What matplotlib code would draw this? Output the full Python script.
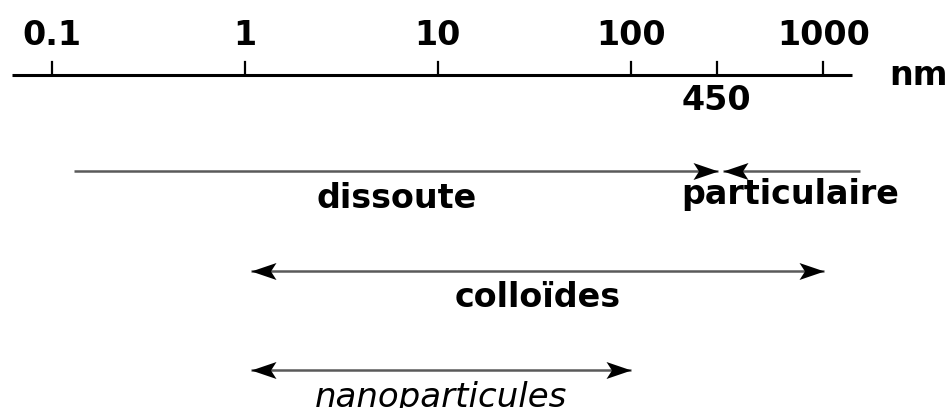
import numpy as np
import matplotlib
matplotlib.use("Agg")
import matplotlib.pyplot as plt
from matplotlib.path import Path

# Size scale (nm) - drawn as a log axis
tick_values = [0.1, 1, 10, 100, 1000]
tick_labels = ["0.1", "1", "10", "100", "1000"]
unit_label = "nm"

# cut-off between dissolved and particulate fraction (schematic position on the drawing)
cutoff_value = 280
cutoff_label = "450"

# size ranges: (name, start, end, arrowhead at start, arrowhead at end)
range_names = ["dissoute", "particulaire", "colloïdes", "nanoparticules"]
range_start = [0.13, 300, 1.08, 1.08]
range_end = [284, 1550, 1005, 100]
head_start = [False, True, True, True]
head_end = [True, False, True, True]

# layout (pixels from top of figure)
AXIS_Y = 75
ROW_Y = [171, 171, 271, 370]
LABEL_Y = [208, 204, 307, 407]
LABEL_X = [397, 790, 538, 441]  # label centers in pixels
LABEL_STYLE = ["bold", "bold", "bold", "italic"]

FS = 24
W, H = 949, 408


def px_to_val(px):
    # 1 nm sits at x=245 px, one decade is ~192.8 px
    return 10 ** ((px - 245) / 192.8)


# stealth-like arrow head, tip at origin, pointing right
head_r = Path([(0, 0), (-1, 0.34), (-0.78, 0), (-1, -0.34), (0, 0)],
              [Path.MOVETO, Path.LINETO, Path.LINETO, Path.LINETO, Path.CLOSEPOLY])
head_l = Path([(0, 0), (1, 0.34), (0.78, 0), (1, -0.34), (0, 0)],
              [Path.MOVETO, Path.LINETO, Path.LINETO, Path.LINETO, Path.CLOSEPOLY])

fig = plt.figure(figsize=(W / 100, H / 100), dpi=100)
ax = fig.add_axes([0, 0, 1, 1])
ax.set_xscale("log")
ax.set_xlim(px_to_val(0), px_to_val(W))
ax.set_ylim(H, 0)
ax.axis("off")

# main axis
ax.plot([px_to_val(12), px_to_val(852)], [AXIS_Y, AXIS_Y], color="black", lw=2.2,
        solid_capstyle="butt")
for v, lab in zip(tick_values, tick_labels):
    ax.plot([v, v], [AXIS_Y, 62], color="black", lw=1.6)
    ax.text(v, 45, lab, ha="center", va="baseline", fontsize=FS, fontweight="bold")
ax.plot([cutoff_value, cutoff_value], [AXIS_Y, 62], color="black", lw=1.6)
ax.text(cutoff_value, 110, cutoff_label, ha="center", va="baseline",
        fontsize=FS, fontweight="bold")
ax.text(px_to_val(889), 85, unit_label, ha="left", va="baseline",
        fontsize=FS, fontweight="bold")

# size ranges
for i, name in enumerate(range_names):
    y = ROW_Y[i]
    x0, x1 = range_start[i], range_end[i]
    ax.plot([x0, x1], [y, y], color="#5a5a5a", lw=1.8, solid_capstyle="butt")
    if head_start[i]:
        ax.plot([x0], [y], marker=head_l, markersize=36, color="black", mew=0)
    if head_end[i]:
        ax.plot([x1], [y], marker=head_r, markersize=36, color="black", mew=0)
    if LABEL_STYLE[i] == "italic":
        ax.text(px_to_val(LABEL_X[i]), LABEL_Y[i], name, ha="center", va="baseline",
                fontsize=FS + 0.5, fontstyle="italic")
    else:
        ax.text(px_to_val(LABEL_X[i]), LABEL_Y[i], name, ha="center", va="baseline",
                fontsize=FS, fontweight="bold")

fig.savefig("out.png", dpi=100)
